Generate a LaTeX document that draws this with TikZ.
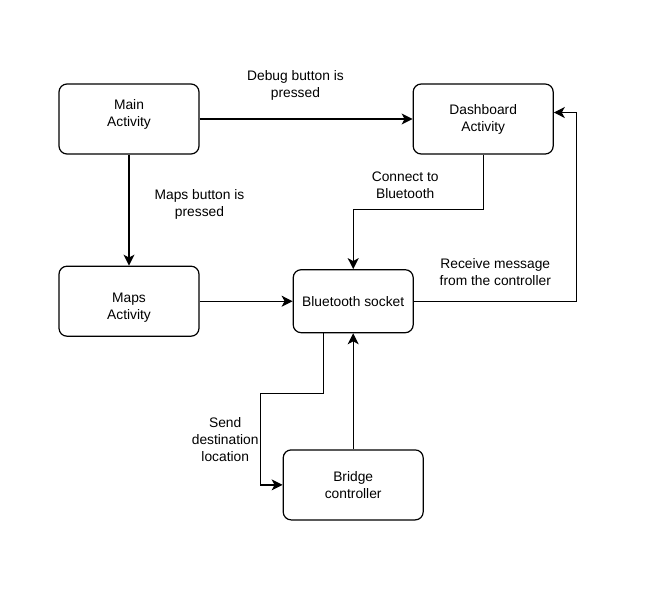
\documentclass[tikz,border=0pt]{standalone}
\usepackage{fontspec}
\setmainfont{Liberation Sans}
\usetikzlibrary{arrows.meta, calc, positioning}

\begin{document}
\begin{tikzpicture}
	[x=1pt, y=-1pt,
	font=\fontsize{13.8}{17}\selectfont,
	activity/.style={draw, line width=1.2pt, rounded corners=8pt, align=center, minimum width=140pt, minimum height=70pt},
	socket/.style={activity, minimum width=120pt, minimum height=63pt},
	flow/.style={line width=1.2pt, -{Stealth[length=11pt, width=11pt, inset=3pt]}},
	note/.style={align=center, inner sep=2pt}]
	\useasboundingbox (0,0) rectangle (664,600);

	\node[activity, text depth=13pt] (main) at (129,119) {Main\\Activity};
	\node[activity, right = 213pt of main] (dashboard) {Dashboard\\Activity};
	\node[activity, below = 111pt of main, text height=39pt] (maps) {Maps\\Activity};
	\node[socket, right = 93pt of maps] (socket) {Bluetooth socket};
	\node[activity, below = 116pt of socket] (bridge) {Bridge\\controller};

	\draw[flow] (main) -- node[note, pos=0.45, above=16pt] (debuglbl) {Debug button is\\pressed} (dashboard);
	\draw[flow] (main) -- node[note, pos=0.45, right=23pt] (mapslbl) {Maps button is\\pressed} (maps);
	\draw[flow] (maps) -- (socket);

	\draw[flow] (dashboard.south) -- ++(0,55) -| node[note, pos=0.3, above=8pt] (connectlbl) {Connect to\\Bluetooth} (socket.north);
	\draw[flow] (socket.east) -- node[note, above=13pt] (receivelbl) {Receive message\\from the controller} ++(163,0) |- ([yshift=6.5pt]dashboard.east);

	\draw[flow] ([xshift=-30pt]socket.south) -- ++(0,60) -- ++(-63,0) |- node[note, pos=0.25, left=-1pt] (sendlbl) {Send\\destination\\location} (bridge.west);
	\draw[flow] (bridge) -- (socket);
\end{tikzpicture}
\end{document}
